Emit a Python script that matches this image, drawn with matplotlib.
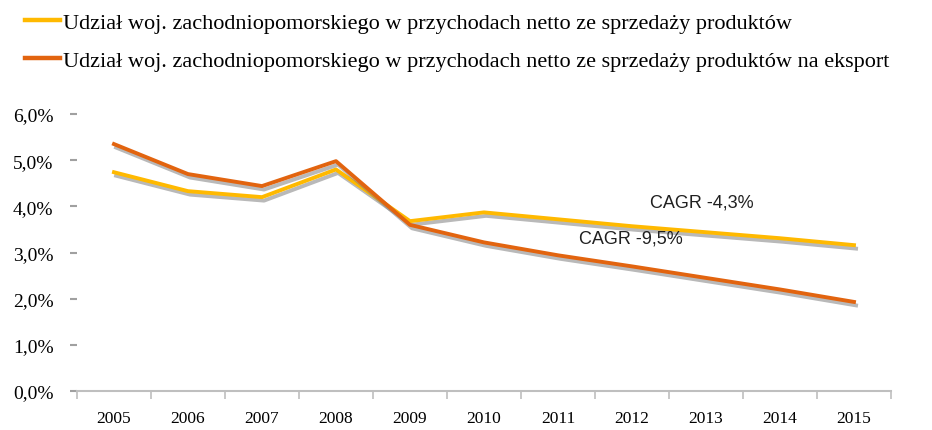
import matplotlib
matplotlib.use("Agg")
import matplotlib.pyplot as plt
import matplotlib.patheffects as pe
from matplotlib.lines import Line2D
import numpy as np

years = ["2005", "2006", "2007", "2008", "2009", "2010", "2011", "2012", "2013", "2014", "2015"]
udzial_produkty = [4.74, 4.33, 4.20, 4.80, 3.68, 3.87, 3.72, 3.57, 3.44, 3.31, 3.16]
udzial_eksport = [5.35, 4.70, 4.44, 4.98, 3.60, 3.22, 2.94, 2.70, 2.45, 2.20, 1.93]
labels = ["Udział woj. zachodniopomorskiego w przychodach netto ze sprzedaży produktów",
          "Udział woj. zachodniopomorskiego w przychodach netto ze sprzedaży produktów na eksport"]
yticks = [0, 1, 2, 3, 4, 5, 6]
ytick_labels = ["0,0%", "1,0%", "2,0%", "3,0%", "4,0%", "5,0%", "6,0%"]
colors = ['#FFB900', '#E2640F']

plt.rcParams['font.family'] = ['Liberation Serif', 'DejaVu Serif']

fig = plt.figure(figsize=(9.32, 4.31), dpi=100)
ax = fig.add_axes([0.0826, 0.0905, 0.956 - 0.0826, 0.733 - 0.0905])

x = np.arange(len(years))
shadow = [pe.SimpleLineShadow(offset=(1.5, -2.5), shadow_color='#808080', alpha=0.55), pe.Normal()]
ax.plot(x, udzial_produkty, color=colors[0], lw=2.8, path_effects=shadow)
ax.plot(x, udzial_eksport, color=colors[1], lw=2.8, path_effects=shadow)

ax.set_xlim(-0.5, len(years) - 0.5)
ax.set_ylim(0, 6)

for s in ['top', 'right', 'left']:
    ax.spines[s].set_visible(False)
ax.spines['bottom'].set_color('#BFBFBF')
ax.spines['bottom'].set_linewidth(1.5)

ax.set_xticks(x)
ax.set_xticklabels(years, fontsize=12.5)
ax.set_xticks(np.arange(-0.5, len(years)), minor=True)
ax.tick_params(axis='x', which='major', length=0, pad=14)
ax.tick_params(axis='x', which='minor', length=6, color='#BFBFBF', width=1.2)

ax.set_yticks(yticks)
ax.set_yticklabels(ytick_labels, fontsize=14)
ax.tick_params(axis='y', length=5, color='#A0A0A0', width=1.5, pad=12)

ax.text(7.25, 4.0, "CAGR -4,3%", fontsize=13, family=['Liberation Sans'], color='#202020')
ax.text(6.28, 3.22, "CAGR -9,5%", fontsize=13, family=['Liberation Sans'], color='#202020')

handles = [Line2D([], [], color=c, lw=3.2) for c in colors]
fig.legend(handles, labels, loc='upper left', bbox_to_anchor=(0.012, 1.0), frameon=False, fontsize=16,
           handlelength=1.6, handletextpad=0.15, labelspacing=0.8, borderaxespad=0.2)

fig.savefig("out.png", dpi=100)
